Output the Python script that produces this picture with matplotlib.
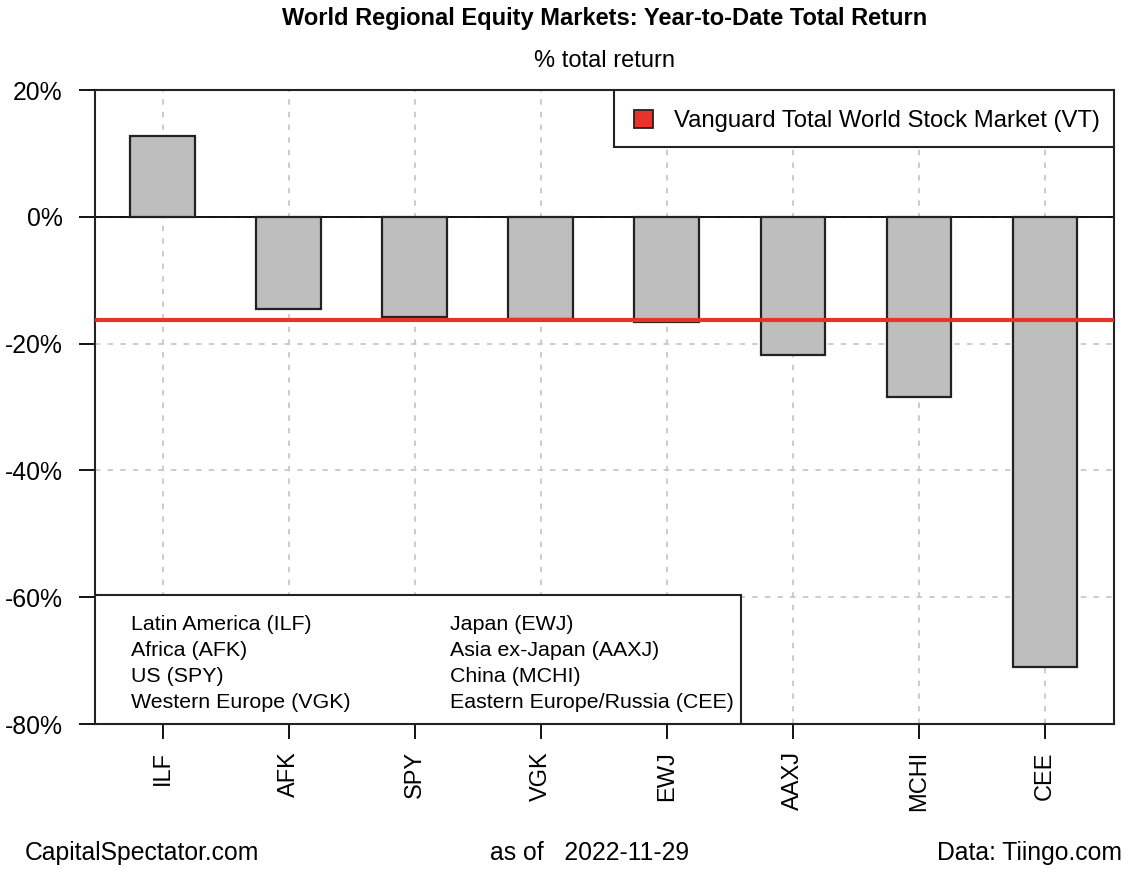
import matplotlib
matplotlib.use("Agg")
import matplotlib.pyplot as plt
from matplotlib.patches import Rectangle

plt.rcParams["font.family"] = ["Liberation Sans", "DejaVu Sans"]

# year-to-date total return, %
TICKERS = ["ILF", "AFK", "SPY", "VGK", "EWJ", "AAXJ", "MCHI", "CEE"]
RETURNS = [12.7, -14.6, -15.8, -16.1, -16.6, -21.8, -28.4, -71.0]
VT_RETURN = -16.3
Y_TICKS = [-80, -60, -40, -20, 0, 20]
Y_TICK_LABELS = ["-80%", "-60%", "-40%", "-20%", "0%", "20%"]
NAMES_LEFT = ["Latin America (ILF)", "Africa (AFK)", "US (SPY)", "Western Europe (VGK)"]
NAMES_RIGHT = ["Japan (EWJ)", "Asia ex-Japan (AAXJ)", "China (MCHI)",
               "Eastern Europe/Russia (CEE)"]

W, H = 1135, 869
FS = 17

fig = plt.figure(figsize=(W / 100, H / 100), dpi=100)
x0, x1, y0, y1 = 94.5, 1114, 90, 724
ax = fig.add_axes([x0 / W, 1 - y1 / H, (x1 - x0) / W, (y1 - y0) / H])

def axfrac(px, py):
    return (px - x0) / (x1 - x0), (y1 - py) / (y1 - y0)

xs = list(range(len(TICKERS)))
ax.bar(xs, RETURNS, width=0.51, color="#bebebe", edgecolor="#222222",
       linewidth=1.6, zorder=3)
ax.axhline(0, color="black", lw=1.3, zorder=2)
ax.axhline(VT_RETURN, color="#e8332a", lw=3, zorder=4)

ax.set_xlim(-0.54, 7.55)
ax.set_ylim(-80, 20)
ax.set_yticks(Y_TICKS)
ax.set_yticklabels(Y_TICK_LABELS, fontsize=17.8)
ax.set_xticks(xs)
ax.set_xticklabels(TICKERS, rotation=90, fontsize=FS)
ax.tick_params(axis="y", length=11.5, width=1.3, pad=11.5)
ax.tick_params(axis="x", length=10.5, width=1.3, pad=9)
ax.grid(True, linestyle=(0, (3, 4)), color="#c8c8c8", lw=1.3, zorder=0)
for s in ax.spines.values():
    s.set_linewidth(1.5)
    s.set_color("#222222")

# legend top-right
lx, ly = axfrac(614, 146.5)
ax.add_patch(Rectangle((lx, ly), 1 - lx, 1 - ly, transform=ax.transAxes,
                       facecolor="white", edgecolor="#222222", lw=1.5, zorder=5))
sx, sy = axfrac(634, 128)
ax.add_patch(Rectangle((sx, sy), 19 / (x1 - x0), 18 / (y1 - y0), transform=ax.transAxes,
                       facecolor="#e8332a", edgecolor="#222222", lw=1.3, zorder=6))
tx, ty = axfrac(674, 121)
ax.text(tx, ty, "Vanguard Total World Stock Market (VT)", transform=ax.transAxes,
        fontsize=17.2, va="center", ha="left", zorder=6)

# names box bottom-left
bx, by = axfrac(741, 595)
ax.add_patch(Rectangle((0, 0), bx, by, transform=ax.transAxes,
                       facecolor="white", edgecolor="#222222", lw=1.5, zorder=5))
row_y = [625, 651, 676, 702]
for i, py in enumerate(row_y):
    ax.text(axfrac(131, py)[0], axfrac(131, py)[1], NAMES_LEFT[i], transform=ax.transAxes,
            fontsize=15.4, va="center", ha="left", zorder=6)
    ax.text(axfrac(450, py)[0], axfrac(450, py)[1], NAMES_RIGHT[i], transform=ax.transAxes,
            fontsize=15.4, va="center", ha="left", zorder=6)

cx = (x0 + x1) / 2 / W
fig.text(cx, 1 - 19 / H, "World Regional Equity Markets: Year-to-Date Total Return",
         fontsize=FS, fontweight="bold", ha="center", va="center")
fig.text(cx, 1 - 61 / H, "% total return", fontsize=FS, ha="center", va="center")

fig.text(25 / W, 1 - 853 / H, "CapitalSpectator.com", fontsize=17.8, ha="left", va="center")
fig.text(590 / W, 1 - 853 / H, "as of   2022-11-29", fontsize=17.8, ha="center", va="center")
fig.text(1122 / W, 1 - 853 / H, "Data: Tiingo.com", fontsize=17.8, ha="right", va="center")

fig.savefig("out.png", dpi=100)
